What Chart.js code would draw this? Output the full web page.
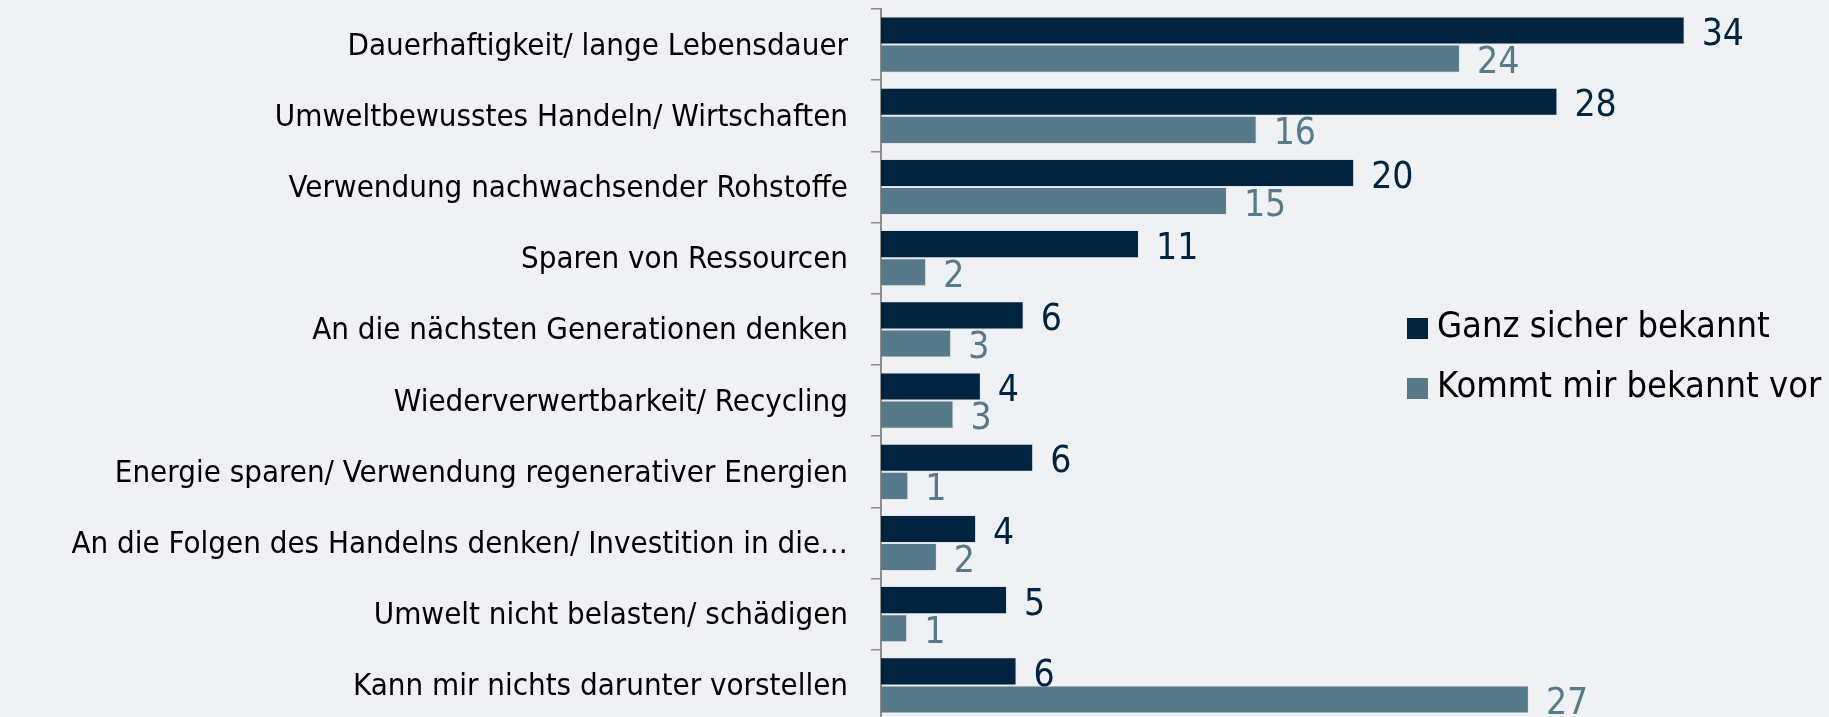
<!DOCTYPE html>
<html>
<head>
<meta charset="utf-8">
<script src="https://cdn.jsdelivr.net/npm/chart.js@4"></script>
<style>
  html, body { margin: 0; padding: 0; background: #F0F1F5; overflow: hidden; }
  #wrap { width: 1829px; height: 721px; position: relative; }
</style>
</head>
<body>
<div id="wrap">
  <canvas id="bekanntChart"></canvas>
</div>
<script>
const categories = [
  'Dauerhaftigkeit/ lange Lebensdauer',
  'Umweltbewusstes Handeln/ Wirtschaften',
  'Verwendung nachwachsender Rohstoffe',
  'Sparen von Ressourcen',
  'An die nächsten Generationen denken',
  'Wiederverwertbarkeit/ Recycling',
  'Energie sparen/ Verwendung regenerativer Energien',
  'An die Folgen des Handelns denken/ Investition in die…',
  'Umwelt nicht belasten/ schädigen',
  'Kann mir nichts darunter vorstellen'
];
const ganzSicher = [33.8, 28.45, 19.9, 10.85, 6.0, 4.2, 6.4, 4.0, 5.3, 5.7];
const kommtBekannt = [24.35, 15.8, 14.55, 1.9, 2.95, 3.05, 1.15, 2.35, 1.1, 27.25];

const dark = '#00243F';
const light = '#577A8A';
const font = '"DejaVu Sans Condensed", "DejaVu Sans", sans-serif';

// Werte rechts neben den Balken
const valueLabels = {
  id: 'valueLabels',
  afterDatasetsDraw(chart) {
    const ctx = chart.ctx;
    ctx.save();
    ctx.font = '37px ' + font;
    ctx.textAlign = 'left';
    ctx.textBaseline = 'middle';
    chart.data.datasets.forEach((ds, i) => {
      const meta = chart.getDatasetMeta(i);
      ctx.fillStyle = ds.backgroundColor;
      meta.data.forEach((bar, j) => {
        ctx.fillText(Math.round(ds.data[j]), bar.x + 17, bar.y + 5);
      });
    });
    ctx.restore();
  }
};

// Legende im Diagrammbereich rechts
const sideLegend = {
  id: 'sideLegend',
  afterDraw(chart) {
    const ctx = chart.ctx;
    ctx.save();
    ctx.font = '36px ' + font;
    ctx.textBaseline = 'middle';
    chart.data.datasets.forEach((ds, i) => {
      const y = 328 + i * 60;
      ctx.fillStyle = ds.backgroundColor;
      ctx.fillRect(1407, y - 10, 21, 21);
      ctx.fillStyle = '#000';
      ctx.fillText(ds.label, 1437, y);
    });
    ctx.restore();
  }
};

const ctx = document.getElementById('bekanntChart').getContext('2d');
new Chart(ctx, {
  type: 'bar',
  data: {
    labels: categories,
    datasets: [
      {
        label: 'Ganz sicher bekannt',
        data: ganzSicher,
        backgroundColor: dark,
        borderColor: 'rgba(200,210,220,0.35)',
        borderWidth: 1,
        categoryPercentage: 0.79,
        barPercentage: 1.0
      },
      {
        label: 'Kommt mir bekannt vor',
        data: kommtBekannt,
        backgroundColor: light,
        borderColor: 'rgba(200,210,220,0.35)',
        borderWidth: 1,
        categoryPercentage: 0.79,
        barPercentage: 1.0
      }
    ]
  },
  options: {
    indexAxis: 'y',
    responsive: true,
    maintainAspectRatio: false,
    animation: false,
    layout: { padding: { top: 9, bottom: 0, right: 44.5, left: 0 } },
    plugins: {
      legend: { display: false },
      tooltip: { enabled: false }
    },
    scales: {
      x: { display: false, min: 0, max: 38 },
      y: {
        afterFit(scale) {
          scale.width = 881;
          scale.paddingTop = 0;
          scale.paddingBottom = 0;
        },
        border: { display: true, color: '#8C8C8C', width: 2 },
        grid: {
          offset: true,
          drawOnChartArea: false,
          drawTicks: true,
          tickLength: 10,
          color: '#8C8C8C',
          lineWidth: 1.5
        },
        ticks: {
          color: '#000',
          padding: 23,
          labelOffset: 2,
          font: { family: font, size: 31 }
        }
      }
    }
  },
  plugins: [valueLabels, sideLegend]
});
</script>
</body>
</html>
